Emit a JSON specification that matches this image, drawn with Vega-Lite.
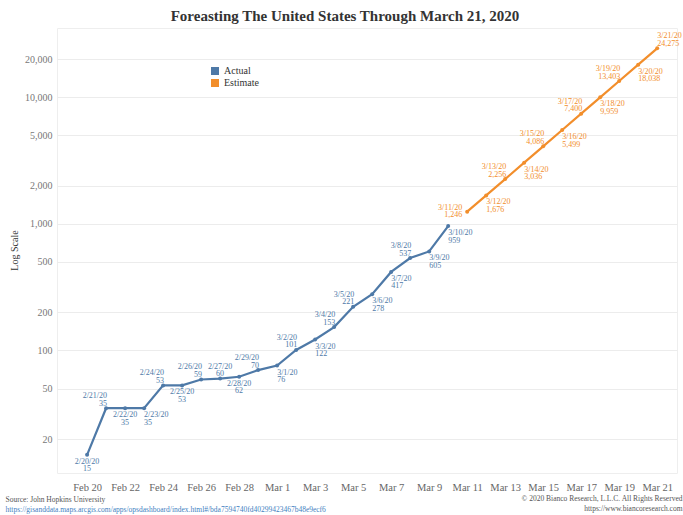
{
  "$schema": "https://vega.github.io/schema/vega-lite/v6.json",
  "autosize": "none",
  "width": 620,
  "height": 445,
  "padding": {"left": 57, "top": 28, "right": 6, "bottom": 42},
  "background": "white",
  "config": {
    "view": {"stroke": "#eeeeee"},
    "font": "Liberation Serif"
  },
  "title": {
    "text": "Foreasting The United States Through March 21, 2020",
    "font": "Liberation Serif",
    "fontSize": 15,
    "fontWeight": "bold",
    "color": "#333333",
    "anchor": "middle",
    "baseline": "alphabetic",
    "offset": 9,
    "dx": -22,
    "dy": 17
  },
  "data": {
    "values": [
      {"date": "2020-02-20", "cases": 15, "series": "Actual"},
      {"date": "2020-02-21", "cases": 35, "series": "Actual"},
      {"date": "2020-02-22", "cases": 35, "series": "Actual"},
      {"date": "2020-02-23", "cases": 35, "series": "Actual"},
      {"date": "2020-02-24", "cases": 53, "series": "Actual"},
      {"date": "2020-02-25", "cases": 53, "series": "Actual"},
      {"date": "2020-02-26", "cases": 59, "series": "Actual"},
      {"date": "2020-02-27", "cases": 60, "series": "Actual"},
      {"date": "2020-02-28", "cases": 62, "series": "Actual"},
      {"date": "2020-02-29", "cases": 70, "series": "Actual"},
      {"date": "2020-03-01", "cases": 76, "series": "Actual"},
      {"date": "2020-03-02", "cases": 101, "series": "Actual"},
      {"date": "2020-03-03", "cases": 122, "series": "Actual"},
      {"date": "2020-03-04", "cases": 153, "series": "Actual"},
      {"date": "2020-03-05", "cases": 221, "series": "Actual"},
      {"date": "2020-03-06", "cases": 278, "series": "Actual"},
      {"date": "2020-03-07", "cases": 417, "series": "Actual"},
      {"date": "2020-03-08", "cases": 537, "series": "Actual"},
      {"date": "2020-03-09", "cases": 605, "series": "Actual"},
      {"date": "2020-03-10", "cases": 959, "series": "Actual"},
      {"date": "2020-03-11", "cases": 1246, "series": "Estimate"},
      {"date": "2020-03-12", "cases": 1676, "series": "Estimate"},
      {"date": "2020-03-13", "cases": 2256, "series": "Estimate"},
      {"date": "2020-03-14", "cases": 3036, "series": "Estimate"},
      {"date": "2020-03-15", "cases": 4086, "series": "Estimate"},
      {"date": "2020-03-16", "cases": 5499, "series": "Estimate"},
      {"date": "2020-03-17", "cases": 7400, "series": "Estimate"},
      {"date": "2020-03-18", "cases": 9959, "series": "Estimate"},
      {"date": "2020-03-19", "cases": 13403, "series": "Estimate"},
      {"date": "2020-03-20", "cases": 18038, "series": "Estimate"},
      {"date": "2020-03-21", "cases": 24275, "series": "Estimate"}
    ]
  },
  "transform": [
    {"calculate": "utcFormat(toDate(datum.date), '%Y-%m-%d')", "as": "dkey"},
    {"calculate": "utcFormat(toDate(datum.date), '%-m-%-d')", "as": "md"},
    {"calculate": "[utcFormat(toDate(datum.date), '%-m/%-d/%y'), format(datum.cases, ',')]", "as": "label"},
    {"calculate": "indexof(['2-21','2-24','2-26','2-29','3-2','3-4','3-5','3-8','3-13','3-15','3-17','3-19'], datum.md) >= 0 ? 'UR' : indexof(['2-27'], datum.md) >= 0 ? 'UC' : indexof(['3-21'], datum.md) >= 0 ? 'UL' : indexof(['2-20','2-22','2-25','2-28'], datum.md) >= 0 ? 'DC' : indexof(['3-11'], datum.md) >= 0 ? 'ML' : 'DL'", "as": "pos"}
  ],
  "encoding": {
    "x": {
      "field": "date",
      "type": "temporal",
      "scale": {
        "type": "utc",
        "domain": [
          {"year": 2020, "month": 2, "date": 18, "hours": 10, "utc": true},
          {"year": 2020, "month": 3, "date": 22, "hours": 1, "utc": true}
        ]
      }
    },
    "y": {
      "field": "cases",
      "type": "quantitative",
      "scale": {"type": "log", "domain": [10.78, 35140], "nice": false}
    },
    "color": {
      "field": "series",
      "type": "nominal",
      "scale": {"domain": ["Actual", "Estimate"], "range": ["#4e79a7", "#f28e2b"]}
    }
  },
  "layer": [
    {
      "mark": {"type": "line", "strokeWidth": 2.2, "point": {"filled": true, "size": 16}},
      "encoding": {
        "x": {
          "field": "date",
          "type": "temporal",
          "axis": {
            "values": [
              {"year": 2020, "month": 2, "date": 20, "utc": true},
              {"year": 2020, "month": 2, "date": 22, "utc": true},
              {"year": 2020, "month": 2, "date": 24, "utc": true},
              {"year": 2020, "month": 2, "date": 26, "utc": true},
              {"year": 2020, "month": 2, "date": 28, "utc": true},
              {"year": 2020, "month": 3, "date": 1, "utc": true},
              {"year": 2020, "month": 3, "date": 3, "utc": true},
              {"year": 2020, "month": 3, "date": 5, "utc": true},
              {"year": 2020, "month": 3, "date": 7, "utc": true},
              {"year": 2020, "month": 3, "date": 9, "utc": true},
              {"year": 2020, "month": 3, "date": 11, "utc": true},
              {"year": 2020, "month": 3, "date": 13, "utc": true},
              {"year": 2020, "month": 3, "date": 15, "utc": true},
              {"year": 2020, "month": 3, "date": 17, "utc": true},
              {"year": 2020, "month": 3, "date": 19, "utc": true},
              {"year": 2020, "month": 3, "date": 21, "utc": true}
            ],
            "labelExpr": "utcFormat(datum.value, '%b %-d')",
            "grid": false,
            "ticks": false,
            "domain": false,
            "labelFont": "Liberation Serif",
            "labelFontSize": 10.5,
            "labelColor": "#666666",
            "labelPadding": 9,
            "labelFlush": false,
            "title": "Source: John Hopkins University",
            "titleFont": "Liberation Serif",
            "titleFontSize": 7.5,
            "titleFontWeight": "normal",
            "titleColor": "#555555",
            "titleAnchor": "start",
            "titleAlign": "left",
            "titleBaseline": "middle",
            "titleX": -52,
            "titleY": 26
          }
        },
        "y": {
          "field": "cases",
          "type": "quantitative",
          "axis": {
            "values": [20, 50, 100, 200, 500, 1000, 2000, 5000, 10000, 20000],
            "format": ",",
            "grid": true,
            "gridColor": "#ececec",
            "ticks": false,
            "domain": false,
            "labelFont": "Liberation Serif",
            "labelFontSize": 10,
            "labelColor": "#777777",
            "labelPadding": 5,
            "title": "Log Scale",
            "titleFont": "Liberation Serif",
            "titleFontSize": 10,
            "titleFontWeight": "normal",
            "titleColor": "#333333",
            "titleAngle": -90,
            "titleAlign": "center",
            "titleBaseline": "middle",
            "titleX": -43,
            "titleY": 222
          }
        },
        "color": {
          "field": "series",
          "type": "nominal",
          "legend": {
            "orient": "none",
            "legendX": 153,
            "legendY": 38,
            "title": null,
            "symbolType": "square",
            "symbolSize": 64,
            "symbolStrokeWidth": 0,
            "labelFont": "Liberation Serif",
            "labelFontSize": 10,
            "labelColor": "#333333",
            "rowPadding": 2
          }
        },
        "detail": {"field": "series"}
      }
    },
    {
      "encoding": {
        "x": {"field": "date", "type": "temporal", "axis": null},
        "y": {"field": "cases", "type": "quantitative", "axis": null},
        "text": {"field": "label"},
        "color": {"field": "series", "type": "nominal", "legend": null}
      },
      "layer": [
        {
          "transform": [{"filter": "datum.pos == 'UR'"}],
          "mark": {"type": "text", "align": "right", "baseline": "bottom", "dx": 1, "dy": -8, "fontSize": 8, "lineHeight": 7.5, "font": "Liberation Serif"}
        },
        {
          "transform": [{"filter": "datum.pos == 'UC'"}],
          "mark": {"type": "text", "align": "center", "baseline": "bottom", "dy": -8, "fontSize": 8, "lineHeight": 7.5, "font": "Liberation Serif"}
        },
        {
          "transform": [{"filter": "datum.pos == 'UL'"}],
          "mark": {"type": "text", "align": "left", "baseline": "bottom", "dx": 0, "dy": -8, "fontSize": 8, "lineHeight": 7.5, "font": "Liberation Serif"}
        },
        {
          "transform": [{"filter": "datum.pos == 'DL'"}],
          "mark": {"type": "text", "align": "left", "baseline": "top", "dx": 0, "dy": 3, "fontSize": 8, "lineHeight": 7.5, "font": "Liberation Serif"}
        },
        {
          "transform": [{"filter": "datum.pos == 'DC'"}],
          "mark": {"type": "text", "align": "center", "baseline": "top", "dy": 3, "fontSize": 8, "lineHeight": 7.5, "font": "Liberation Serif"}
        },
        {
          "transform": [{"filter": "datum.pos == 'ML'"}],
          "mark": {"type": "text", "align": "right", "baseline": "middle", "dx": -5, "dy": -4, "fontSize": 8, "lineHeight": 7.5, "font": "Liberation Serif"}
        }
      ]
    },
    {
      "transform": [{"filter": "datum.dkey == '2020-03-21'"}],
      "mark": {"type": "point", "opacity": 0},
      "encoding": {
        "x": {
          "field": "date",
          "type": "temporal",
          "axis": {
            "orient": "top",
            "labels": false,
            "ticks": false,
            "domain": false,
            "grid": false,
            "title": "https://gisanddata.maps.arcgis.com/apps/opsdashboard/index.html#/bda7594740fd40299423467b48e9ecf6",
            "titleFont": "Liberation Serif",
            "titleFontSize": 7.5,
            "titleFontWeight": "normal",
            "titleColor": "#3f7fbf",
            "titleAnchor": "start",
            "titleAlign": "left",
            "titleBaseline": "middle",
            "titleX": -52,
            "titleY": 481
          }
        },
        "y": {
          "field": "cases",
          "type": "quantitative",
          "axis": {
            "orient": "right",
            "labels": false,
            "ticks": false,
            "domain": false,
            "grid": false,
            "title": ["© 2020 Bianco Research, L.L.C. All Rights Reserved", "https://www.biancoresearch.com"],
            "titleFont": "Liberation Serif",
            "titleFontSize": 7.5,
            "titleFontWeight": "normal",
            "titleColor": "#555555",
            "titleLineHeight": 10,
            "titleAngle": 0,
            "titleAlign": "right",
            "titleBaseline": "top",
            "titleX": 5,
            "titleY": 466
          }
        },
        "color": {"field": "series", "type": "nominal", "legend": null}
      }
    }
  ],
  "resolve": {"axis": {"x": "independent", "y": "independent"}}
}
